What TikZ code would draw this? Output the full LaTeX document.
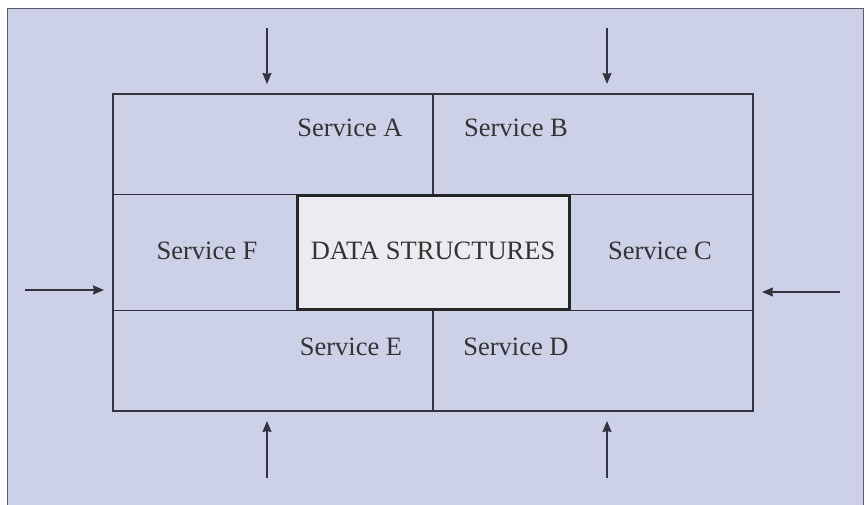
\documentclass[tikz,border=0pt]{standalone}
\usepackage{fontspec}
\setmainfont{Liberation Serif}
\usetikzlibrary{arrows.meta}
\definecolor{panel}{RGB}{205,209,231}
\definecolor{ink}{RGB}{52,50,62}
\definecolor{corefill}{RGB}{236,236,240}
\begin{document}
\begin{tikzpicture}[x=1pt,y=-1pt,
  gridline/.style={draw=ink,line width=1.4pt},
  label/.style={font=\fontsize{26.5}{30}\selectfont,text=black!80,inner sep=0pt},
  inflow/.style={draw=ink,line width=1.6pt,-{Stealth[length=11pt,width=9pt,inset=1pt]}}]
  % page and tinted panel
  \useasboundingbox (0,0) rectangle (865,505);
  \fill[white] (0,0) rectangle (865,505);
  \fill[panel] (7,9) rectangle (863,505);
  \draw[ink!80,line width=1pt] (7,505) -- (7,9) -- (863,9) -- (863,505);

  % outer service frame and central data structures box
  \node[gridline,minimum width=640pt,minimum height=317pt,inner sep=0pt] (frame) at (433,252.5) {};
  \node[draw=black!85,line width=3pt,fill=corefill,minimum width=272pt,minimum height=113pt,inner sep=0pt] (core) at (433,252.5) {};

  % row separators and column dividers
  \draw[gridline] (frame.west |- core.north) -- (core.north west);
  \draw[gridline] (core.north east) -- (frame.east |- core.north);
  \draw[gridline] (frame.west |- core.south) -- (core.south west);
  \draw[gridline] (core.south east) -- (frame.east |- core.south);
  \draw[gridline] (frame.north) -- (core.north);
  \draw[gridline] (core.south) -- (frame.south);
  \node[draw=black!85,line width=3pt,minimum width=272pt,minimum height=113pt,inner sep=0pt] at (core) {};

  % labels
  \node[label] (sa) at (350,128) {Service A};
  \node[label] (sb) at (516,128) {Service B};
  \node[label] (sf) at (207,251) {Service F};
  \node[label] (ds) at (433,251) {DATA STRUCTURES};
  \node[label] (sc) at (660,251) {Service C};
  \node[label] (se) at (351,347) {Service E};
  \node[label] (sd) at (516,347) {Service D};

  % incoming arrows
  \coordinate (t1s) at (267,28);  \coordinate (t1e) at (267,84);
  \coordinate (t2s) at (607,28);  \coordinate (t2e) at (607,84);
  \coordinate (b1s) at (267,478); \coordinate (b1e) at (267,421);
  \coordinate (b2s) at (607,478); \coordinate (b2e) at (607,421);
  \coordinate (ls) at (25,290);   \coordinate (le) at (104,290);
  \coordinate (rs) at (840,292);  \coordinate (re) at (762,292);
  \draw[inflow] (t1s) -- (t1e);
  \draw[inflow] (t2s) -- (t2e);
  \draw[inflow] (b1s) -- (b1e);
  \draw[inflow] (b2s) -- (b2e);
  \draw[inflow] (ls) -- (le);
  \draw[inflow] (rs) -- (re);
\end{tikzpicture}
\end{document}
